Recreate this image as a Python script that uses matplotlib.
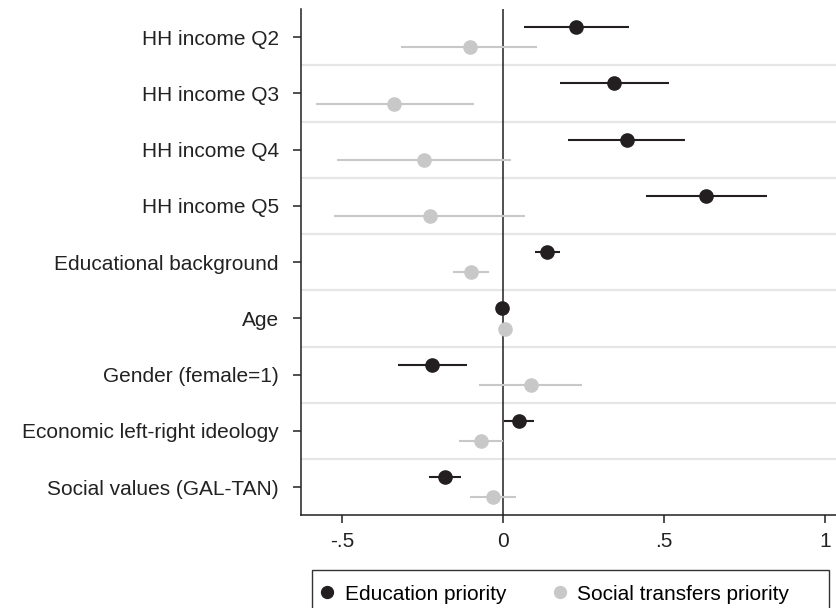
import numpy as np
import matplotlib
matplotlib.use("Agg")
import matplotlib.pyplot as plt
from matplotlib.patches import Rectangle

plt.rcParams['font.family'] = ['Liberation Sans', 'DejaVu Sans']

labels = ["HH income Q2", "HH income Q3", "HH income Q4", "HH income Q5",
          "Educational background", "Age", "Gender (female=1)",
          "Economic left-right ideology", "Social values (GAL-TAN)"]

# education priority: estimate with 95% CI
edu_est = [0.228, 0.344, 0.384, 0.631, 0.138, -0.003, -0.219, 0.049, -0.181]
edu_lo = [0.064, 0.176, 0.203, 0.443, 0.098, -0.003, -0.327, 0.002, -0.229]
edu_hi = [0.391, 0.514, 0.565, 0.821, 0.177, -0.003, -0.112, 0.095, -0.130]

# social transfers priority
soc_est = [-0.103, -0.337, -0.246, -0.227, -0.099, 0.007, 0.086, -0.068, -0.031]
soc_lo = [-0.315, -0.581, -0.514, -0.524, -0.156, 0.007, -0.074, -0.138, -0.103]
soc_hi = [0.107, -0.091, 0.026, 0.069, -0.043, 0.007, 0.246, 0.000, 0.042]

dark = "#231f20"
light = "#c8c8c8"

W, H = 837, 608
fig = plt.figure(figsize=(W / 100, H / 100), dpi=100)
ax = fig.add_axes([301 / W, 1 - 515.3 / H, 1 - 301 / W, (515.3 - 9) / H])

pos = np.arange(len(labels))
off = 0.18

for i in range(len(labels) - 1):
    ax.axhline(i + 0.5, color="#e6e6e6", lw=1.6, zorder=0)
ax.axvline(0, color=dark, lw=1.1, zorder=1)

ax.hlines(pos - off, edu_lo, edu_hi, color=dark, lw=1.5, zorder=2)
ax.plot(edu_est, pos - off, "o", color=dark, ms=9.5, zorder=3,
        label="Education priority")
ax.hlines(pos + off, soc_lo, soc_hi, color=light, lw=1.5, zorder=2)
ax.plot(soc_est, pos + off, "o", color=light, ms=9.5, zorder=3,
        label="Social transfers priority")

ax.set_xlim(-0.627, 1.037)
ax.set_ylim(len(labels) - 0.5, -0.5)
ax.set_xticks([-0.5, 0, 0.5, 1])
ax.set_xticklabels(["-.5", "0", ".5", "1"])
ax.set_yticks(pos)
ax.set_yticklabels(labels)

for s in ["top", "right"]:
    ax.spines[s].set_visible(False)
for s in ["left", "bottom"]:
    ax.spines[s].set_color(dark)
    ax.spines[s].set_linewidth(1.1)
ax.tick_params(axis="both", colors=dark, labelcolor="#222222",
               labelsize=15, length=6, width=1.1)
ax.tick_params(axis="y", pad=10)
ax.tick_params(axis="x", pad=6)

# legend entries without frame, box drawn separately
leg = fig.legend(loc="center left", bbox_to_anchor=(319 / W, 1 - 594 / H),
                 ncol=2, fontsize=15, frameon=False, handletextpad=0.45,
                 borderpad=0, handlelength=0.8, borderaxespad=0,
                 columnspacing=2.15, markerscale=0.9)
fig.patches.append(Rectangle((312 / W, -0.01), (829 - 312) / W, 0.01 + (608 - 569.5) / H,
                             transform=fig.transFigure, fill=False,
                             edgecolor="#333333", lw=1.0))

fig.savefig("out.png", dpi=100)
